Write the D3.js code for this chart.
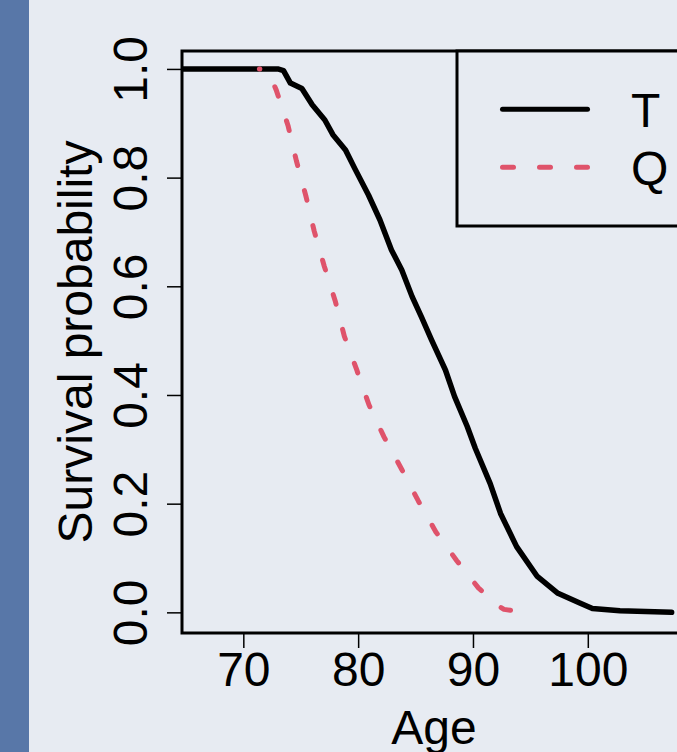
<!DOCTYPE html>
<html>
<head>
<meta charset="utf-8">
<script src="https://cdn.jsdelivr.net/npm/d3@7"></script>
<style>
  html, body { margin: 0; padding: 0; background: #e7ebf2; }
  svg { display: block; font-family: "Liberation Sans", Arial, sans-serif; }
</style>
</head>
<body>
<svg id="chart" width="677" height="752"></svg>
<script>
// survival curve T (black, solid)
const tAge  = [64.7, 73.0, 73.5, 74.1, 75.1, 76.0, 77.1, 77.8, 78.9, 79.7, 80.9, 81.9, 82.9, 83.8, 84.7,
               85.5, 86.4, 87.6, 88.4, 89.5, 90.2, 91.5, 92.4, 93.8, 95.6, 97.4, 99.3, 100.4, 102.8, 107.3];
const tSurv = [1.0, 1.0, 0.997, 0.974, 0.964, 0.934, 0.906, 0.879, 0.851, 0.817, 0.768, 0.722, 0.667, 0.630, 0.581,
               0.544, 0.501, 0.446, 0.397, 0.342, 0.302, 0.237, 0.182, 0.121, 0.066, 0.035, 0.017, 0.007, 0.003, 0.0];

// survival curve Q (red, dashed)
const qAge  = [71.4, 72.1, 72.87, 73.89, 74.62, 75.44, 76.18, 77.05, 77.99, 78.8, 79.88, 80.94, 82.25,
               83.8, 85.24, 86.77, 88.59, 90.47, 92.36, 92.7, 93.52];
const qSurv = [1.0, 0.998, 0.961, 0.896, 0.831, 0.767, 0.701, 0.637, 0.574, 0.508, 0.446, 0.382, 0.323,
               0.263, 0.205, 0.148, 0.095, 0.045, 0.010, 0.0055, 0.003];

const xTicks = [70, 80, 90, 100];
const yTicks = [0, 0.2, 0.4, 0.6, 0.8, 1.0];
const seriesNames = ['T', 'Q'];
const seriesColours = ['#000000', '#DF536B'];

const svg = d3.select('#chart');
const W = 677, H = 752;
const box = { left: 182, top: 51, right: 690, bottom: 633 };
const fontSize = 48;

svg.append('rect').attr('width', W).attr('height', H).attr('fill', '#e7ebf2');
svg.append('rect').attr('width', 29).attr('height', H).attr('fill', '#5877a8');

const x = d3.scaleLinear().domain([64.66, 108.9]).range([box.left, box.right]);
const y = d3.scaleLinear().domain([-0.038, 1.033]).range([box.bottom, box.top]);

svg.append('clipPath').attr('id', 'plotclip')
  .append('rect')
  .attr('x', box.left).attr('y', box.top)
  .attr('width', box.right - box.left).attr('height', box.bottom - box.top);

const line = d3.line().x(d => x(d[0])).y(d => y(d[1]));
const plot = svg.append('g').attr('clip-path', 'url(#plotclip)');

plot.append('path')
  .datum(d3.zip(tAge, tSurv))
  .attr('d', line)
  .attr('fill', 'none')
  .attr('stroke', seriesColours[0])
  .attr('stroke-width', 5.5)
  .attr('stroke-linejoin', 'round')
  .attr('stroke-linecap', 'round');

plot.append('path')
  .datum(d3.zip(qAge, qSurv))
  .attr('d', line)
  .attr('fill', 'none')
  .attr('stroke', seriesColours[1])
  .attr('stroke-width', 5)
  .attr('stroke-dasharray', '10,26')
  .attr('stroke-dashoffset', 9.5)
  .attr('stroke-linejoin', 'round')
  .attr('stroke-linecap', 'round');

// plot frame
svg.append('rect')
  .attr('x', box.left).attr('y', box.top)
  .attr('width', box.right - box.left).attr('height', box.bottom - box.top)
  .attr('fill', 'none').attr('stroke', '#000').attr('stroke-width', 3);

// x axis
const xAxis = svg.append('g').attr('transform', `translate(0,${box.bottom})`)
  .call(d3.axisBottom(x).tickValues(xTicks).tickSize(15).tickPadding(38).tickFormat(d3.format('d')));
xAxis.select('.domain').remove();
xAxis.selectAll('line').attr('stroke', '#000').attr('stroke-width', 1.5);
xAxis.selectAll('text').attr('font-size', fontSize).attr('fill', '#000')
  .attr('dy', 0).attr('y', 53);

// y axis (labels rotated like R's default)
const yAxis = svg.append('g').attr('transform', `translate(${box.left},0)`)
  .call(d3.axisLeft(y).tickValues(yTicks).tickSize(15).tickFormat(d3.format('.1f')));
yAxis.select('.domain').remove();
yAxis.selectAll('line').attr('stroke', '#000').attr('stroke-width', 1.5);
yAxis.selectAll('text').remove();
yAxis.selectAll('.tick').append('text')
  .attr('transform', 'translate(-35.5,0) rotate(-90)')
  .attr('text-anchor', 'middle')
  .attr('font-size', fontSize)
  .attr('fill', '#000')
  .text(d => d3.format('.1f')(d));

// axis titles
svg.append('text')
  .attr('x', (box.left + box.right) / 2 - 2).attr('y', 744)
  .attr('text-anchor', 'middle').attr('font-size', fontSize).attr('fill', '#000')
  .text('Age');

svg.append('text')
  .attr('transform', `translate(92,${(box.top + box.bottom) / 2}) rotate(-90)`)
  .attr('text-anchor', 'middle').attr('font-size', fontSize).attr('fill', '#000')
  .text('Survival probability');

// legend
const legend = { left: 457, top: box.top, bottom: 226 };
svg.append('rect')
  .attr('x', legend.left).attr('y', legend.top)
  .attr('width', box.right - legend.left).attr('height', legend.bottom - legend.top)
  .attr('fill', '#e7ebf2').attr('stroke', '#000').attr('stroke-width', 3);

seriesNames.forEach((name, i) => {
  const ly = 109.3 + i * 58;
  svg.append('line')
    .attr('x1', 502.5).attr('x2', 587.5).attr('y1', ly).attr('y2', ly)
    .attr('stroke', seriesColours[i])
    .attr('stroke-width', i === 0 ? 5 : 5)
    .attr('stroke-linecap', 'round')
    .attr('stroke-dasharray', i === 0 ? null : '11,26');
  svg.append('text')
    .attr('x', 631).attr('y', ly + 17.5)
    .attr('font-size', fontSize).attr('fill', '#000')
    .text(name);
});
</script>
</body>
</html>
